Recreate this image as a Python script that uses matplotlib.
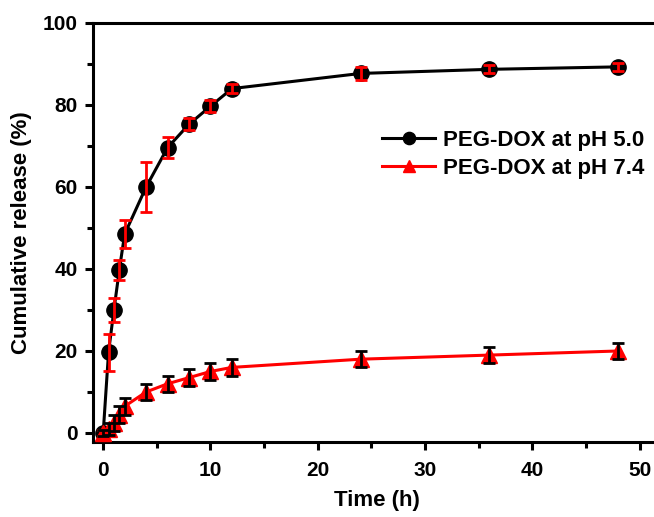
import matplotlib
matplotlib.use("Agg")
import matplotlib.pyplot as plt
from matplotlib.ticker import MultipleLocator

plt.rcParams['font.family'] = ['Liberation Sans', 'DejaVu Sans']
plt.rcParams['font.weight'] = 'bold'

time_h = [0, 0.5, 1, 1.5, 2, 4, 6, 8, 10, 12, 24, 36, 48]
ph50 = [0, 19.7, 30.0, 39.7, 48.5, 60.0, 69.6, 75.3, 79.7, 84.0, 87.7, 88.7, 89.3]
ph50_err = [0.8, 4.5, 3.0, 2.5, 3.5, 6.0, 2.5, 1.5, 1.5, 1.0, 1.5, 1.0, 1.0]
ph74 = [0, 1.0, 2.5, 4.5, 6.5, 10.0, 12.0, 13.5, 15.0, 16.0, 18.0, 19.0, 20.0]
ph74_err = [0.8, 1.5, 2.0, 2.0, 2.0, 2.0, 2.0, 2.0, 2.0, 2.0, 2.0, 2.0, 2.0]
labels = ["PEG-DOX at pH 5.0", "PEG-DOX at pH 7.4"]

fig = plt.figure(figsize=(6.54, 5.17), dpi=100)
ax = fig.add_axes([93/654, 1-442/517, (660-93)/654, (442-23)/517])

ax.plot(time_h, ph50, '-o', color='black', lw=2.2, ms=11, label=labels[0], zorder=3)
ax.errorbar(time_h, ph50, yerr=ph50_err, fmt='none', ecolor='red', elinewidth=2,
            capsize=4, capthick=2, zorder=4)
ax.plot(time_h, ph74, '-^', color='red', lw=2.2, ms=11, label=labels[1], zorder=3)
ax.errorbar(time_h, ph74, yerr=ph74_err, fmt='none', ecolor='black', elinewidth=2,
            capsize=4, capthick=2, zorder=4)

ax.set_xlim(-0.95, 51.9)
ax.set_ylim(-2.2, 100)
ax.xaxis.set_major_locator(MultipleLocator(10))
ax.xaxis.set_minor_locator(MultipleLocator(5))
ax.yaxis.set_major_locator(MultipleLocator(20))
ax.yaxis.set_minor_locator(MultipleLocator(10))
for s in ax.spines.values():
    s.set_linewidth(2.2)
ax.tick_params(which='major', direction='out', length=6, width=2.2, labelsize=15, pad=5)
ax.tick_params(axis='x', which='major', pad=8)
ax.tick_params(which='minor', direction='out', length=4, width=2.2)
for lab in ax.get_xticklabels() + ax.get_yticklabels():
    lab.set_fontweight('bold')

ax.set_xlabel('Time (h)', fontsize=16, fontweight='bold', labelpad=7)
ax.set_ylabel('Cumulative release (%)', fontsize=16, fontweight='bold', labelpad=8)

leg = ax.legend(loc='upper left', bbox_to_anchor=((362-93)/567, 1-(110-23)/419),
                frameon=False, fontsize=16, handlelength=2.4, handletextpad=0.35,
                labelspacing=0.32, markerscale=0.8)
for t in leg.get_texts():
    t.set_fontweight('bold')

fig.savefig('out.png', dpi=100)
